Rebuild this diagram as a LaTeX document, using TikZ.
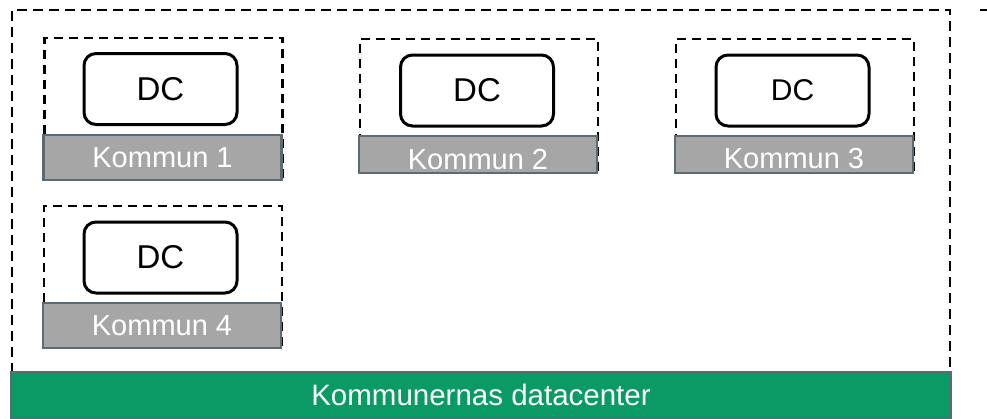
\documentclass[tikz,border=0pt]{standalone}
\usepackage{fontspec}
\setmainfont{Liberation Sans}
\usetikzlibrary{positioning}

\definecolor{labelgray}{HTML}{A6A6A6}
\definecolor{labeledge}{HTML}{5E6A71}
\definecolor{dcgreen}{HTML}{0A9B64}

\tikzset{
  outerbox/.style={draw=black,line width=2.6pt,dash pattern=on 10pt off 6pt,inner sep=0pt},
  kommunbox/.style={draw=black,line width=2.6pt,dash pattern=on 9pt off 6pt,minimum width=238,inner sep=0pt},
  kommunlabel/.style={draw=labeledge,fill=labelgray,line width=2.4pt,minimum width=238,inner sep=0pt},
  kommuntext/.style={text=white,inner sep=0pt,font=\fontsize{29}{29}\selectfont},
  dcbox/.style={draw=black,fill=white,line width=3pt,rounded corners=12pt,minimum width=153,minimum height=71,inner sep=0pt},
  datacenterbar/.style={draw=labeledge,fill=dcgreen,line width=2pt,text=white,inner sep=0pt,font=\fontsize{29.5}{29.5}\selectfont}
}

\begin{document}
\begin{tikzpicture}[x=1pt,y=-1pt]

                \useasboundingbox (0,0) rectangle (987,418);

                \node[outerbox,minimum width=938,minimum height=363] (outer) at (481,191.5) {};

                \foreach \i/\cx/\cy/\bh/\lh/\ty/\dx/\dy/\fs in {1/163.5/109/142/45/158/160.5/89/33,
                                                            2/479/106/134/37/160/477/90.5/33,
                                                            3/795/106/134/37/159/792.5/90.5/30,
                                                            4/163/277/142/45/326/160.5/257.5/33} {

                    \node[kommunbox,minimum height=\bh] (k\i) at (\cx,\cy) {};

                    \node[kommunlabel,minimum height=\lh,anchor=south] (k\i lbl) at ([xshift=-1pt]k\i.south) {};

                    \node[kommuntext] (k\i txt) at (k\i lbl.center |- 0,\ty) {Kommun \i};

                    \node[dcbox,font=\fontsize{\fs}{\fs}\selectfont] (dc\i) at (\dx,\dy) {DC};

                }

                \node[datacenterbar,minimum width=940,minimum height=46] (center) at (481,395) {Kommunernas datacenter};

                % fragment of the next box at the right edge
                \coordinate (frag) at (980,10);
                \coordinate (fragend) at (988,10);
                \draw[line width=2.6pt] (frag) -- (fragend);

            \end{tikzpicture}
\end{document}
